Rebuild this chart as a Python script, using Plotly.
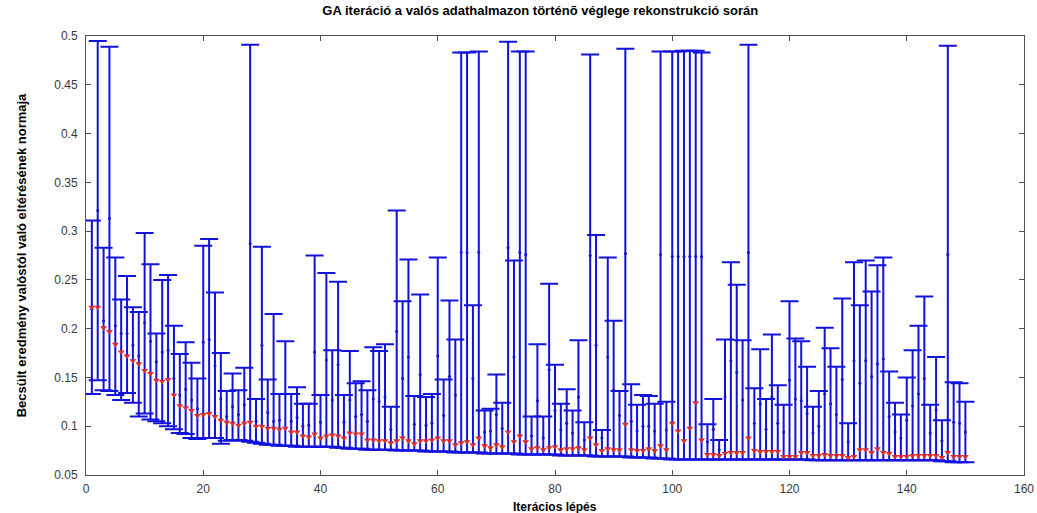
import plotly.graph_objects as go

# GA population statistics per iteration (min / max / mean / median of the error norm)
iterations = list(range(1, 151))

pop_max = [
    0.311, 0.495, 0.283, 0.489, 0.273, 0.230, 0.254, 0.222, 0.217, 0.298,
    0.266, 0.195, 0.250, 0.255, 0.203, 0.174, 0.186, 0.165, 0.149, 0.285,
    0.292, 0.237, 0.175, 0.136, 0.154, 0.137, 0.160, 0.491, 0.128, 0.284,
    0.148, 0.215, 0.133, 0.187, 0.133, 0.140, 0.123, 0.123, 0.275, 0.132,
    0.257, 0.178, 0.248, 0.132, 0.177, 0.144, 0.146, 0.137, 0.181, 0.177,
    0.184, 0.120, 0.321, 0.228, 0.271, 0.131, 0.235, 0.130, 0.133, 0.273,
    0.148, 0.229, 0.189, 0.483, 0.483, 0.224, 0.484, 0.116, 0.118, 0.153,
    0.124, 0.494, 0.270, 0.484, 0.484, 0.110, 0.184, 0.110, 0.246, 0.163,
    0.123, 0.138, 0.116, 0.188, 0.104, 0.481, 0.296, 0.096, 0.273, 0.208,
    0.136, 0.487, 0.143, 0.122, 0.132, 0.131, 0.123, 0.484, 0.125, 0.484,
    0.484, 0.485, 0.485, 0.485, 0.483, 0.102, 0.128, 0.086, 0.189, 0.268,
    0.245, 0.188, 0.491, 0.139, 0.179, 0.128, 0.194, 0.142, 0.122, 0.228,
    0.190, 0.187, 0.161, 0.120, 0.136, 0.201, 0.180, 0.161, 0.231, 0.103,
    0.268, 0.224, 0.270, 0.238, 0.265, 0.273, 0.156, 0.124, 0.112, 0.150,
    0.178, 0.203, 0.233, 0.122, 0.171, 0.106, 0.490, 0.145, 0.144, 0.125,
]

pop_min = [
    0.133, 0.147, 0.137, 0.136, 0.132, 0.127, 0.134, 0.124, 0.110, 0.113,
    0.107, 0.105, 0.103, 0.100, 0.097, 0.093, 0.092, 0.088, 0.087, 0.088,
    0.088, 0.088, 0.082, 0.085, 0.086, 0.086, 0.085, 0.084, 0.083, 0.082,
    0.081, 0.081, 0.080, 0.080, 0.080, 0.079, 0.079, 0.079, 0.079, 0.079,
    0.079, 0.079, 0.078, 0.078, 0.077, 0.077, 0.077, 0.076, 0.076, 0.076,
    0.076, 0.076, 0.075, 0.075, 0.075, 0.075, 0.075, 0.074, 0.074, 0.074,
    0.074, 0.074, 0.073, 0.073, 0.073, 0.073, 0.073, 0.072, 0.072, 0.072,
    0.072, 0.072, 0.072, 0.071, 0.071, 0.071, 0.071, 0.071, 0.071, 0.071,
    0.070, 0.070, 0.070, 0.070, 0.070, 0.070, 0.069, 0.069, 0.069, 0.069,
    0.069, 0.069, 0.068, 0.068, 0.068, 0.068, 0.067, 0.067, 0.067, 0.066,
    0.066, 0.066, 0.066, 0.066, 0.066, 0.066, 0.066, 0.066, 0.066, 0.066,
    0.066, 0.066, 0.066, 0.066, 0.066, 0.066, 0.066, 0.066, 0.066, 0.066,
    0.066, 0.066, 0.066, 0.065, 0.065, 0.065, 0.065, 0.065, 0.065, 0.065,
    0.065, 0.065, 0.065, 0.065, 0.065, 0.065, 0.065, 0.065, 0.065, 0.065,
    0.065, 0.065, 0.065, 0.065, 0.065, 0.064, 0.064, 0.063, 0.063, 0.063,
]

pop_mean = [
    0.220, 0.321, 0.208, 0.313, 0.203, 0.195, 0.195, 0.183, 0.172, 0.206,
    0.187, 0.166, 0.176, 0.178, 0.149, 0.132, 0.138, 0.127, 0.118, 0.186,
    0.189, 0.162, 0.128, 0.110, 0.120, 0.112, 0.122, 0.287, 0.105, 0.183,
    0.114, 0.105, 0.106, 0.133, 0.105, 0.109, 0.100, 0.101, 0.176, 0.104,
    0.168, 0.127, 0.163, 0.104, 0.127, 0.110, 0.112, 0.105, 0.128, 0.125,
    0.130, 0.097, 0.197, 0.149, 0.171, 0.102, 0.153, 0.101, 0.103, 0.172,
    0.111, 0.151, 0.132, 0.278, 0.278, 0.149, 0.278, 0.094, 0.095, 0.112,
    0.098, 0.283, 0.171, 0.278, 0.276, 0.090, 0.126, 0.088, 0.158, 0.116,
    0.096, 0.103, 0.093, 0.130, 0.086, 0.275, 0.183, 0.088, 0.171, 0.137,
    0.111, 0.277, 0.105, 0.095, 0.100, 0.100, 0.095, 0.276, 0.096, 0.274,
    0.274, 0.274, 0.274, 0.274, 0.274, 0.084, 0.097, 0.076, 0.130, 0.167,
    0.155, 0.127, 0.278, 0.103, 0.123, 0.097, 0.130, 0.103, 0.094, 0.147,
    0.128, 0.126, 0.113, 0.093, 0.100, 0.133, 0.123, 0.112, 0.148, 0.084,
    0.167, 0.144, 0.167, 0.151, 0.164, 0.169, 0.110, 0.094, 0.088, 0.106,
    0.121, 0.133, 0.149, 0.093, 0.117, 0.085, 0.276, 0.104, 0.103, 0.094,
]

pop_median = [
    0.222, 0.222, 0.201, 0.197, 0.184, 0.176, 0.172, 0.167, 0.164, 0.157,
    0.154, 0.147, 0.146, 0.148, 0.132, 0.121, 0.119, 0.116, 0.111, 0.112,
    0.113, 0.110, 0.106, 0.104, 0.103, 0.101, 0.103, 0.104, 0.100, 0.100,
    0.098, 0.098, 0.097, 0.098, 0.094, 0.094, 0.090, 0.089, 0.092, 0.088,
    0.090, 0.091, 0.090, 0.088, 0.093, 0.092, 0.092, 0.086, 0.086, 0.085,
    0.085, 0.083, 0.085, 0.088, 0.085, 0.082, 0.085, 0.085, 0.086, 0.088,
    0.085, 0.085, 0.081, 0.083, 0.084, 0.081, 0.088, 0.080, 0.078, 0.081,
    0.079, 0.094, 0.084, 0.090, 0.084, 0.077, 0.078, 0.076, 0.078, 0.079,
    0.076, 0.077, 0.077, 0.078, 0.076, 0.088, 0.081, 0.075, 0.077, 0.076,
    0.076, 0.102, 0.076, 0.075, 0.075, 0.077, 0.075, 0.080, 0.076, 0.103,
    0.095, 0.085, 0.098, 0.124, 0.086, 0.071, 0.071, 0.070, 0.072, 0.073,
    0.073, 0.073, 0.088, 0.075, 0.074, 0.074, 0.074, 0.074, 0.069, 0.069,
    0.069, 0.073, 0.073, 0.070, 0.070, 0.071, 0.070, 0.070, 0.070, 0.068,
    0.069, 0.076, 0.076, 0.073, 0.077, 0.073, 0.072, 0.069, 0.069, 0.069,
    0.070, 0.070, 0.070, 0.070, 0.070, 0.068, 0.073, 0.069, 0.069, 0.069,
]

x_ticks = [0, 20, 40, 60, 80, 100, 120, 140, 160]
y_ticks = [0.05, 0.1, 0.15, 0.2, 0.25, 0.3, 0.35, 0.4, 0.45, 0.5]
y_tick_labels = ["0.05", "0.1", "0.15", "0.2", "0.25", "0.3", "0.35", "0.4", "0.45", "0.5"]

BLUE = "#1212dc"
RED = "#dc2c2c"
AXIS = "#505050"

err_plus = [hi - m for hi, m in zip(pop_max, pop_mean)]
err_minus = [m - lo for lo, m in zip(pop_min, pop_mean)]

fig = go.Figure()

fig.add_trace(go.Scatter(
    x=iterations, y=pop_mean, mode="markers",
    marker=dict(color=BLUE, size=3, symbol="circle"),
    error_y=dict(type="data", symmetric=False, array=err_plus, arrayminus=err_minus,
                 color=BLUE, thickness=2, width=9),
    showlegend=False, hoverinfo="skip",
))

fig.add_trace(go.Scatter(
    x=iterations, y=pop_median, mode="markers",
    marker=dict(color=RED, size=6, symbol="triangle-down", line=dict(width=0)),
    showlegend=False, hoverinfo="skip",
))

font_family = "Liberation Sans, Arial, Helvetica"
tick_font = dict(family=font_family, size=12, color="#3a3a3a")
label_font = dict(family=font_family, size=12, color="#000000")

fig.update_layout(
    width=1037, height=513,
    margin=dict(l=86, r=13, t=36, b=38),
    paper_bgcolor="white", plot_bgcolor="white",
    title=dict(text="<b>GA iteráció a valós adathalmazon történõ véglege rekonstrukció során</b>",
               x=0.521, xanchor="center", y=0.988, yanchor="top",
               font=dict(family=font_family, size=13, color="#000000")),
    xaxis=dict(range=[0, 160], tickvals=x_ticks, ticks="inside", ticklen=5,
               tickcolor=AXIS, showline=True, linecolor=AXIS, linewidth=1, mirror="ticks",
               showgrid=False, zeroline=False, tickfont=tick_font, ticklabelstandoff=3,
               automargin=False),
    yaxis=dict(range=[0.05, 0.5], tickvals=y_ticks, ticktext=y_tick_labels,
               ticks="inside", ticklen=5, tickcolor=AXIS, showline=True, linecolor=AXIS,
               linewidth=1, mirror="ticks", showgrid=False, zeroline=False, tickfont=tick_font,
               ticklabelstandoff=5, automargin=False,
               title=dict(text="<b>Becsült eredmény valóstól való eltérésének normaja</b>",
                          font=dict(family=font_family, size=13, color="#000000"), standoff=24)),
    annotations=[dict(
        text="<b>Iterácios lépés</b>", xref="paper", yref="paper",
        x=0.5, y=0, xanchor="center", yanchor="top", yshift=-23,
        showarrow=False, font=label_font,
    )],
)

fig.write_html("out.html")
